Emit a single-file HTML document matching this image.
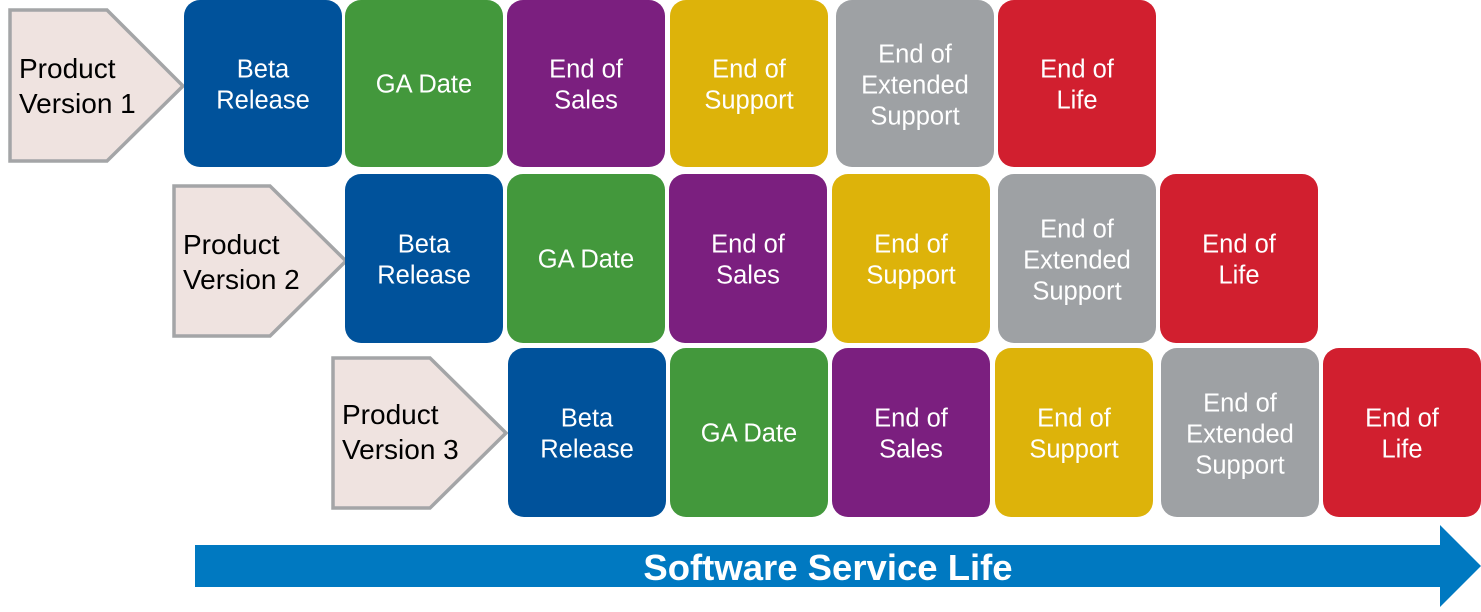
<!DOCTYPE html>
<html><head><meta charset="utf-8"><style>
html,body{margin:0;padding:0;background:#fff;}
svg{display:block;}
text{font-family:"Liberation Sans",Arial,sans-serif;}
</style></head><body>
<svg width="1481" height="612" viewBox="0 0 1481 612" xmlns="http://www.w3.org/2000/svg">
<polygon points="10,10 107,10 183,86 107,161 10,161" fill="#EFE3E0" stroke="#A4A5A7" stroke-width="3.5"/>
<text x="19" y="78" font-size="28" fill="#000">Product</text>
<text x="19" y="113" font-size="28" fill="#000">Version 1</text>
<polygon points="174,186 270,186 346,261 270,336 174,336" fill="#EFE3E0" stroke="#A4A5A7" stroke-width="3.5"/>
<text x="183" y="254" font-size="28" fill="#000">Product</text>
<text x="183" y="289" font-size="28" fill="#000">Version 2</text>
<polygon points="333,358 430,358 506,433 430,508 333,508" fill="#EFE3E0" stroke="#A4A5A7" stroke-width="3.5"/>
<text x="342" y="424" font-size="28" fill="#000">Product</text>
<text x="342" y="459" font-size="28" fill="#000">Version 3</text>

<g font-size="25.5" fill="#fff" text-anchor="middle">
<rect x="184" y="0" width="158" height="167" rx="16" fill="#00529B"/>
<text x="263" y="77.5">Beta</text><text x="263" y="108.5">Release</text>
<rect x="345" y="0" width="158" height="167" rx="16" fill="#43983C"/>
<text x="424" y="92.5">GA Date</text>
<rect x="507" y="0" width="158" height="167" rx="16" fill="#7B1F7F"/>
<text x="586" y="77.5">End of</text><text x="586" y="108.5">Sales</text>
<rect x="670" y="0" width="158" height="167" rx="16" fill="#DDB30A"/>
<text x="749" y="77.5">End of</text><text x="749" y="108.5">Support</text>
<rect x="836" y="0" width="158" height="167" rx="16" fill="#9EA1A4"/>
<text x="915" y="62.5">End of</text><text x="915" y="93.5">Extended</text><text x="915" y="124.5">Support</text>
<rect x="998" y="0" width="158" height="167" rx="16" fill="#D11F2F"/>
<text x="1077" y="77.5">End of</text><text x="1077" y="108.5">Life</text>

<rect x="345" y="174" width="158" height="169" rx="16" fill="#00529B"/>
<text x="424" y="252.5">Beta</text><text x="424" y="283.5">Release</text>
<rect x="507" y="174" width="158" height="169" rx="16" fill="#43983C"/>
<text x="586" y="267.5">GA Date</text>
<rect x="669" y="174" width="158" height="169" rx="16" fill="#7B1F7F"/>
<text x="748" y="252.5">End of</text><text x="748" y="283.5">Sales</text>
<rect x="832" y="174" width="158" height="169" rx="16" fill="#DDB30A"/>
<text x="911" y="252.5">End of</text><text x="911" y="283.5">Support</text>
<rect x="998" y="174" width="158" height="169" rx="16" fill="#9EA1A4"/>
<text x="1077" y="237.5">End of</text><text x="1077" y="268.5">Extended</text><text x="1077" y="299.5">Support</text>
<rect x="1160" y="174" width="158" height="169" rx="16" fill="#D11F2F"/>
<text x="1239" y="252.5">End of</text><text x="1239" y="283.5">Life</text>

<rect x="508" y="348" width="158" height="169" rx="16" fill="#00529B"/>
<text x="587" y="426.5">Beta</text><text x="587" y="457.5">Release</text>
<rect x="670" y="348" width="158" height="169" rx="16" fill="#43983C"/>
<text x="749" y="441.5">GA Date</text>
<rect x="832" y="348" width="158" height="169" rx="16" fill="#7B1F7F"/>
<text x="911" y="426.5">End of</text><text x="911" y="457.5">Sales</text>
<rect x="995" y="348" width="158" height="169" rx="16" fill="#DDB30A"/>
<text x="1074" y="426.5">End of</text><text x="1074" y="457.5">Support</text>
<rect x="1161" y="348" width="158" height="169" rx="16" fill="#9EA1A4"/>
<text x="1240" y="411.5">End of</text><text x="1240" y="442.5">Extended</text><text x="1240" y="473.5">Support</text>
<rect x="1323" y="348" width="158" height="169" rx="16" fill="#D11F2F"/>
<text x="1402" y="426.5">End of</text><text x="1402" y="457.5">Life</text>
</g>

<polygon points="195,545 1440,545 1440,525 1481,566 1440,607 1440,587 195,587" fill="#0079C1"/>
<text x="828" y="580" font-size="36.5" font-weight="bold" fill="#fff" text-anchor="middle">Software Service Life</text>
</svg>
</body></html>
